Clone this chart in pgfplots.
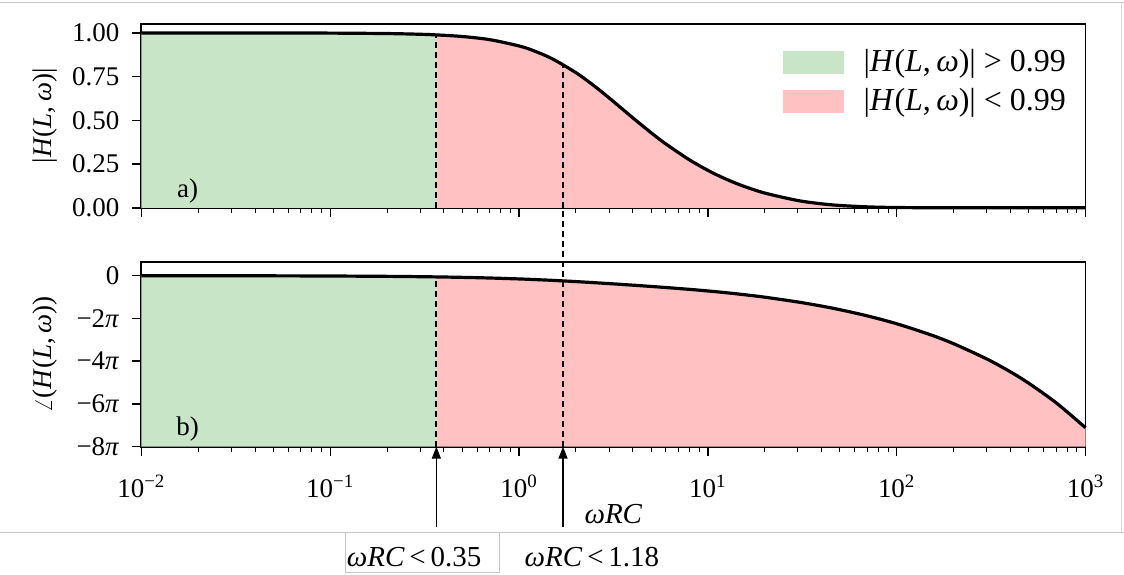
\documentclass[border=0pt]{standalone}
\usepackage{fontspec}
\setmainfont{Liberation Serif}
\usepackage{pgfplots}
\pgfplotsset{compat=1.18}
\usepgfplotslibrary{fillbetween}
\usetikzlibrary{arrows.meta}

\definecolor{fgreen}{RGB}{200,229,200}
\definecolor{fred}{RGB}{255,193,193}
\newcommand{\fs}{\fontsize{13.5}{16}\selectfont}
\newcommand{\fl}{\fontsize{16}{19}\selectfont}
\newcommand{\fa}{\fontsize{14.5}{17}\selectfont}
\newcommand{\Hlw}{\textit{H}(\textit{L},\,\textit{ω})}
\newcommand{\wrc}{\textit{ωRC}}

\tikzset{
  hcurve/.style={black, line width=1.6pt, smooth},
  hcut/.style={black, line width=1.1pt, dash pattern=on 3pt off 2pt},
  hptr/.style={black, line width=0.6pt, -{Triangle[length=6pt,width=4.5pt]}},
}

\begin{document}
\begin{tikzpicture}

% magnitude
\begin{axis}[at={(70.5pt,183.5pt)}, anchor=south west,
  scale only axis, width=472.5pt, height=92pt,
  xmode=log, xmin=0.01, xmax=1000,
  ymin=0, ymax=1.0514,
  axis line style={line width=0.9pt},
  tick pos=left, tick align=outside,
  major tick length=4.5pt, minor tick length=2.5pt,
  major tick style={black, line width=0.7pt},
  minor tick style={black, line width=0.5pt},
  tick label style={font=\fs},
  yticklabel style={xshift=-3pt},
  clip=false,
  ytick={0,0.25,0.5,0.75,1}, yticklabels={0.00,0.25,0.50,0.75,1.00},
  xticklabels={},
  ylabel={|\Hlw|},
  every axis y label/.style={at={(axis description cs:-0.1016,0.5)}, rotate=90, anchor=center, font=\fs},
  legend style={draw=none, fill=none, at={(0.679,0.885)}, anchor=north west,
    font=\fl, row sep=3pt, column sep=8pt, inner sep=0pt},
  legend cell align=left,
]
\addlegendimage{legend image code/.code={\fill[fgreen] (0pt,-5.5pt) rectangle (30pt,5.5pt);}}
\addlegendentry{|\Hlw| > 0.99}
\addlegendimage{legend image code/.code={\fill[fred] (0pt,-5.5pt) rectangle (30pt,5.5pt);}}
\addlegendentry{|\Hlw| < 0.99}

\addplot[draw=none, smooth, name path=tg, forget plot] coordinates {
  (0.01,1.0) (0.02,0.99997) (0.05,0.99979) (0.1,0.99917) (0.2,0.99667) (0.3,0.99251) (0.365,0.9889)};
\addplot[draw=none, name path=tgb, forget plot] coordinates {(0.01,0) (0.365,0)};
\addplot[fill=fgreen, draw=none, forget plot] fill between[of=tg and tgb];

\addplot[draw=none, smooth, name path=tr, forget plot] coordinates {
  (0.365,0.9889) (0.5,0.9798) (0.7,0.9617) (1,0.9257) (1.2,0.8977) (1.5,0.8522) (2,0.7731)
  (2.5,0.6972) (3,0.6284) (4,0.5151) (5,0.4297) (6,0.3647) (8,0.2739) (10,0.2143) (12,0.1724)
  (15,0.1289) (20,0.0845) (30,0.0416) (40,0.0229) (50,0.0135) (70,0.0054) (100,0.0017)
  (200,0.0001) (1000,0)};
\addplot[draw=none, name path=trb, forget plot] coordinates {(0.365,0) (1000,0)};
\addplot[fill=fred, draw=none, forget plot] fill between[of=tr and trb];

\addplot[hcut, forget plot] coordinates {(0.365,0) (0.365,0.9889)};
\addplot[hcut, forget plot] coordinates {(1.71,0) (1.71,0.819)};

\addplot[hcurve, forget plot] coordinates {
  (0.01,1.0) (0.02,0.99997) (0.05,0.99979) (0.1,0.99917) (0.2,0.99667) (0.3,0.99251) (0.365,0.9889)
  (0.5,0.9798) (0.7,0.9617) (1,0.9257) (1.2,0.8977) (1.5,0.8522) (2,0.7731)
  (2.5,0.6972) (3,0.6284) (4,0.5151) (5,0.4297) (6,0.3647) (8,0.2739) (10,0.2143) (12,0.1724)
  (15,0.1289) (20,0.0845) (30,0.0416) (40,0.0229) (50,0.0135) (70,0.0054) (100,0.0017)
  (200,0.0001) (1000,0)};

\node[font=\fs] at (axis description cs:0.049,0.09) {a)};
\end{axis}

% phase
\begin{axis}[at={(70.5pt,64pt)}, anchor=south west,
  scale only axis, width=472.5pt, height=92.35pt,
  xmode=log, xmin=0.01, xmax=1000,
  ymin=-25.1327, ymax=2.0,
  axis line style={line width=0.9pt},
  tick pos=left, tick align=outside,
  major tick length=4.5pt, minor tick length=2.5pt,
  major tick style={black, line width=0.7pt},
  minor tick style={black, line width=0.5pt},
  tick label style={font=\fs},
  yticklabel style={xshift=-3pt},
  xticklabel style={yshift=-6pt},
  clip=false,
  ytick={-25.1327,-18.8496,-12.5664,-6.2832,0},
  yticklabels={−8\textit{π},−6\textit{π},−4\textit{π},−2\textit{π},0},
  xtick={0.01,0.1,1,10,100,1000},
  xticklabels={10\textsuperscript{−2},10\textsuperscript{−1},10\textsuperscript{0},10\textsuperscript{1},10\textsuperscript{2},10\textsuperscript{3}},
  ylabel={$\angle$(\Hlw)},
  every axis y label/.style={at={(axis description cs:-0.1016,0.5)}, rotate=90, anchor=center, font=\fs},
  xlabel={\wrc},
  every axis x label/.style={at={(axis description cs:0.5,-0.368)}, anchor=center, font=\fa},
]
\addplot[draw=none, smooth, name path=bg] coordinates {
  (0.01,-0.005) (0.05,-0.025) (0.1,-0.05) (0.2,-0.1) (0.3,-0.15) (0.365,-0.182)};
\addplot[draw=none, name path=bgb] coordinates {(0.01,-25.1327) (0.365,-25.1327)};
\addplot[fill=fgreen, draw=none] fill between[of=bg and bgb];

\addplot[draw=none, smooth, name path=br] coordinates {
  (0.365,-0.182) (0.5,-0.247) (0.7,-0.343) (1,-0.480) (1.2,-0.566) (1.5,-0.688) (2,-0.870)
  (3,-1.165) (4,-1.395) (5,-1.582) (6,-1.742) (8,-2.014) (10,-2.247) (12,-2.457) (15,-2.742)
  (20,-3.162) (30,-3.873) (40,-4.472) (50,-5.000) (70,-5.916) (100,-7.071) (150,-8.660)
  (200,-10.000) (300,-12.247) (400,-14.142) (500,-15.811) (700,-18.708) (1000,-22.361)};
\addplot[draw=none, name path=brb] coordinates {(0.365,-25.1327) (1000,-25.1327)};
\addplot[fill=fred, draw=none] fill between[of=br and brb];

\addplot[hcut] coordinates {(0.365,-25.1327) (0.365,-0.182)};
\addplot[hcut] coordinates {(1.71,-25.1327) (1.71,10.0)};

\addplot[hcurve] coordinates {
  (0.01,-0.005) (0.05,-0.025) (0.1,-0.05) (0.2,-0.1) (0.3,-0.15) (0.365,-0.182)
  (0.5,-0.247) (0.7,-0.343) (1,-0.480) (1.2,-0.566) (1.5,-0.688) (2,-0.870)
  (3,-1.165) (4,-1.395) (5,-1.582) (6,-1.742) (8,-2.014) (10,-2.247) (12,-2.457) (15,-2.742)
  (20,-3.162) (30,-3.873) (40,-4.472) (50,-5.000) (70,-5.916) (100,-7.071) (150,-8.660)
  (200,-10.000) (300,-12.247) (400,-14.142) (500,-15.811) (700,-18.708) (1000,-22.361)};

\addplot[hptr] coordinates {(0.365,-36.88) (0.365,-25.1327)};
\addplot[hptr] coordinates {(1.71,-36.88) (1.71,-25.1327)};

\node[font=\fs] at (axis description cs:0.049,0.097) {b)};
\node[font=\fa] at (axis description cs:0.2889,-0.596) {\wrc\,<\,0.35};
\node[font=\fa] at (axis description cs:0.4772,-0.596) {\wrc\,<\,1.18};
\end{axis}

% page frame
\draw[gray!45, line width=0.5pt] (0,286pt) -- (562pt,286pt);
\draw[gray!30, line width=0.5pt] (561pt,286pt) -- (561pt,21pt);
\draw[gray!45, line width=0.5pt] (0,21pt) -- (562pt,21pt);
\draw[gray!45, line width=0.5pt] (172.5pt,21pt) -- (172.5pt,1pt) -- (249.5pt,1pt) -- (249.5pt,21pt);
\path (0,0) rectangle (562pt,287.5pt);
\end{tikzpicture}
\end{document}
